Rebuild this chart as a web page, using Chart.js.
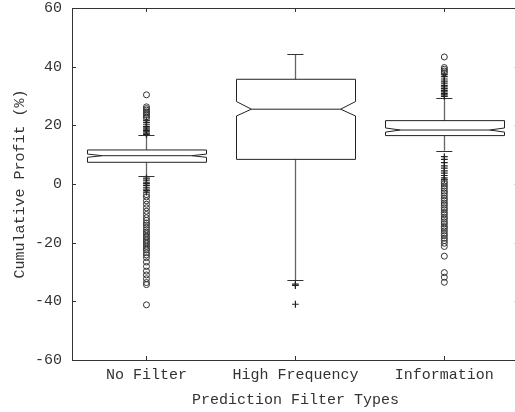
<!DOCTYPE html>
<html>
<head>
<meta charset="UTF-8">
<title>Prediction Filter Types</title>
<script src="https://cdn.jsdelivr.net/npm/chart.js"></script>
<style>
    body { margin: 0; background: #fff; overflow: hidden; }
</style>
</head>
<body>
<canvas id="box" width="524" height="412"></canvas>
<script>
// categories and box statistics
const categories = ['No Filter', 'High Frequency', 'Information'];
const q1 = [7.4, 8.4, 16.5];
const medians = [9.65, 25.5, 18.4];
const q3 = [11.6, 35.7, 21.6];
const notchLow = [9.1, 23.2, 17.7];
const notchHigh = [10.2, 28.1, 19.1];
const whiskerLow = [2.6, -32.7, 11.3];
const whiskerHigh = [16.7, 44.2, 29.4];
const yTicks = [-60, -40, -20, 0, 20, 40, 60];

// outliers drawn as '+'
const plusNoFilter = [16.9, 17.3, 17.8, 18.2, 18.7, 19.1, 19.6, 20.2, 20.9, 21.6,
    2.0, 1.3, 0.6, 0.1, -0.5, -1.1, -1.7, -2.2, -2.8];
const plusHighFreq = [-34.1, -34.6, -41.0];
const plusInfo = [29.9, 30.4, 30.8, 31.4, 31.9, 32.5, 33.1, 33.6, 34.4, 35.1, 35.8, 36.6, 37.3,
    9.3, 8.4, 7.3, 6.2, 5.4, 4.5, 3.7, 2.9, 2.1, 1.5];
// outliers drawn as 'o'
const circNoFilter = [22.4, 22.9, 23.5, 24.1, 24.6, 25.2, 25.7, 26.3, 30.4,
    -3.6, -4.4, -5.7, -6.9, -8.1, -9.3, -10.4, -11.5, -12.4, -13.3, -14.0, -14.8, -15.6,
    -16.4, -17.0, -17.8, -18.3, -19.1, -19.8, -20.4, -21.2, -21.9, -22.5, -23.4, -24.2,
    -25.1, -26.6, -28.1, -29.7, -31.0, -32.3, -33.6, -34.3, -41.2];
const circHighFreq = [];
const circInfo = [37.9, 38.5, 39.1, 39.7, 43.3,
    0.8, 0.1, -0.7, -1.5, -2.4, -3.1, -4.0, -4.9, -5.6, -6.5, -7.2, -8.1, -8.8, -9.7,
    -10.4, -11.3, -12.0, -12.9, -13.6, -14.5, -15.1, -16.0, -16.9, -17.6, -18.5, -19.3,
    -20.2, -21.3, -24.6, -30.2, -31.8, -33.5];

const FONT = { family: '"Liberation Mono", "DejaVu Sans Mono", monospace', size: 15 };
const TEXT = '#333';
const BOX_HALF = 0.4;     // half box width, in category units
const CAP_HALF = 0.054;
const NOTCH_IN = 0.25;    // notch indent as share of the half width

function toPoints(groups) {
    const pts = [];
    groups.forEach((vals, i) => vals.forEach(v => pts.push({ x: i + 1, y: v })));
    return pts;
}

const boxPlugin = {
    id: 'boxes',
    beforeDatasetsDraw(chart) {
        const ctx = chart.ctx;
        const xs = chart.scales.x, ys = chart.scales.y;
        const a = chart.chartArea;
        ctx.save();
        // frame
        ctx.strokeStyle = '#333';
        ctx.lineWidth = 1;
        ctx.beginPath();
        ctx.moveTo(a.left + 0.5, a.top + 0.5);
        ctx.lineTo(a.right, a.top + 0.5);
        ctx.moveTo(a.left + 0.5, a.top);
        ctx.lineTo(a.left + 0.5, a.bottom + 0.5);
        ctx.lineTo(a.right, a.bottom + 0.5);
        ctx.stroke();
        // inward ticks
        ctx.beginPath();
        yTicks.forEach(v => {
            const y = Math.round(ys.getPixelForValue(v)) + 0.5;
            ctx.moveTo(a.left, y); ctx.lineTo(a.left + 4, y);
            ctx.moveTo(a.right, y); ctx.lineTo(a.right - 4, y);
        });
        categories.forEach((c, i) => {
            const x = Math.round(xs.getPixelForValue(i + 1)) + 0.5;
            ctx.moveTo(x, a.bottom); ctx.lineTo(x, a.bottom - 4);
            ctx.moveTo(x, a.top); ctx.lineTo(x, a.top + 4);
        });
        ctx.stroke();

        categories.forEach((c, i) => {
            const cx = xs.getPixelForValue(i + 1);
            const hw = xs.getPixelForValue(i + 1 + BOX_HALF) - cx;
            const cw = xs.getPixelForValue(i + 1 + CAP_HALF) - cx;
            const L = Math.round(cx - hw) + 0.5, R = Math.round(cx + hw) + 0.5;
            const inL = L + hw * NOTCH_IN, inR = R - hw * NOTCH_IN;
            const yq1 = ys.getPixelForValue(q1[i]), yq3 = ys.getPixelForValue(q3[i]);
            const ym = ys.getPixelForValue(medians[i]);
            const ynl = ys.getPixelForValue(notchLow[i]), ynh = ys.getPixelForValue(notchHigh[i]);
            const ywl = ys.getPixelForValue(whiskerLow[i]), ywh = ys.getPixelForValue(whiskerHigh[i]);
            const xc = Math.round(cx) + 0.5;

            // whiskers
            ctx.strokeStyle = '#666';
            ctx.lineWidth = 1.3;
            ctx.beginPath();
            ctx.moveTo(xc, yq3); ctx.lineTo(xc, ywh);
            ctx.moveTo(xc, yq1); ctx.lineTo(xc, ywl);
            ctx.stroke();
            ctx.strokeStyle = '#333';
            ctx.lineWidth = 1;
            ctx.beginPath();
            ctx.moveTo(cx - cw, Math.round(ywh) + 0.5); ctx.lineTo(cx + cw, Math.round(ywh) + 0.5);
            ctx.moveTo(cx - cw, Math.round(ywl) + 0.5); ctx.lineTo(cx + cw, Math.round(ywl) + 0.5);
            ctx.stroke();

            // notched box
            ctx.strokeStyle = '#222';
            ctx.beginPath();
            ctx.moveTo(L, yq3);
            ctx.lineTo(R, yq3);
            ctx.lineTo(R, ynh);
            ctx.lineTo(inR, ym);
            ctx.lineTo(R, ynl);
            ctx.lineTo(R, yq1);
            ctx.lineTo(L, yq1);
            ctx.lineTo(L, ynl);
            ctx.lineTo(inL, ym);
            ctx.lineTo(L, ynh);
            ctx.closePath();
            ctx.stroke();
            ctx.beginPath();
            ctx.moveTo(inL, ym); ctx.lineTo(inR, ym);
            ctx.stroke();
        });
        ctx.restore();
    }
};

new Chart(document.getElementById('box'), {
    type: 'scatter',
    data: {
        datasets: [
            {
                label: 'far',
                data: toPoints([circNoFilter, circHighFreq, circInfo]),
                pointStyle: 'circle',
                pointRadius: 3,
                borderWidth: 1,
                borderColor: '#333',
                backgroundColor: 'rgba(0,0,0,0)'
            },
            {
                label: 'near',
                data: toPoints([plusNoFilter, plusHighFreq, plusInfo]),
                pointStyle: 'cross',
                pointRadius: 3.4,
                borderWidth: 1.2,
                borderColor: '#222'
            }
        ]
    },
    options: {
        responsive: false,
        animation: false,
        layout: { padding: { top: 8, right: 2, left: 0, bottom: 0 } },
        plugins: { legend: { display: false }, tooltip: { enabled: false } },
        scales: {
            x: {
                type: 'linear',
                min: 0.5,
                max: 3.5,
                afterBuildTicks: s => { s.ticks = categories.map((c, i) => ({ value: i + 1 })); },
                afterFit: s => { s.height = 52; s.paddingLeft = 0; s.paddingRight = 0; },
                grid: { display: false, drawTicks: false },
                border: { display: false },
                ticks: {
                    color: TEXT,
                    font: FONT,
                    padding: 6,
                    maxRotation: 0,
                    callback: v => categories[v - 1]
                },
                title: {
                    display: true,
                    text: 'Prediction Filter Types',
                    color: TEXT,
                    font: FONT,
                    padding: { top: 0, bottom: 3 }
                }
            },
            y: {
                min: -60,
                max: 60,
                afterBuildTicks: s => { s.ticks = yTicks.map(v => ({ value: v })); },
                afterFit: s => { s.width = 72; s.paddingTop = 0; s.paddingBottom = 0; },
                grid: { display: false, drawTicks: false },
                border: { display: false },
                ticks: { color: TEXT, font: FONT, padding: 10 },
                title: {
                    display: true,
                    text: 'Cumulative Profit (%)',
                    color: TEXT,
                    font: FONT,
                    padding: { top: 11, bottom: 0 }
                }
            }
        }
    },
    plugins: [boxPlugin]
});
</script>
</body>
</html>
